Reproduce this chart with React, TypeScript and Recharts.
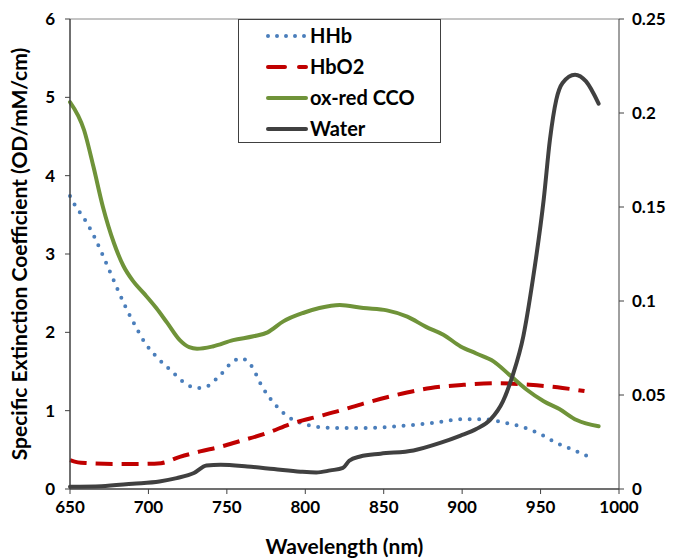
import { Line, LineChart, XAxis, YAxis, ReferenceLine, Label } from 'recharts';

const xTicks = [650, 700, 750, 800, 850, 900, 950, 1000];
const leftTicks = [0, 1, 2, 3, 4, 5, 6];
const rightTicks = [0, 0.05, 0.1, 0.15, 0.2, 0.25];

const hhbNm = [650, 653, 660, 666, 671, 676, 681, 686, 692, 698, 706, 715, 724, 731, 736, 746, 754, 759, 765, 773, 782, 790, 801, 809, 821, 840, 858, 880, 900, 915, 926, 937, 950, 960, 972, 983];
const hhbVal = [3.74, 3.63, 3.42, 3.2, 2.98, 2.75, 2.52, 2.3, 2.07, 1.86, 1.67, 1.5, 1.34, 1.29, 1.3, 1.46, 1.63, 1.67, 1.59, 1.29, 1.05, 0.91, 0.82, 0.79, 0.78, 0.78, 0.8, 0.84, 0.89, 0.89, 0.85, 0.8, 0.7, 0.59, 0.49, 0.39];

const hbo2Nm = [650, 655, 661, 678, 695, 708, 720, 733, 746, 758, 775, 792, 809, 822, 837, 858, 880, 901, 922, 943, 964, 978];
const hbo2Val = [0.37, 0.34, 0.33, 0.32, 0.32, 0.33, 0.41, 0.48, 0.54, 0.61, 0.71, 0.84, 0.93, 1.0, 1.09, 1.2, 1.29, 1.33, 1.35, 1.33, 1.29, 1.25];

const ccoNm = [650, 659, 665, 671, 678, 684, 690, 697, 705, 712, 720, 726, 731, 741, 754, 767, 776, 786, 799, 809, 822, 837, 852, 865, 877, 888, 899, 909, 920, 930, 941, 952, 962, 973, 987];
const ccoVal = [4.94, 4.58, 4.11, 3.6, 3.14, 2.85, 2.66, 2.5, 2.31, 2.12, 1.9, 1.81, 1.79, 1.82, 1.9, 1.95, 2.0, 2.14, 2.25, 2.31, 2.35, 2.31, 2.28, 2.2, 2.07, 1.97, 1.82, 1.73, 1.63, 1.46, 1.27, 1.12, 1.02, 0.88, 0.8];

const waterNm = [650, 670, 690, 707, 718, 729, 737, 746, 763, 780, 797, 807, 816, 824, 828, 835, 848, 869, 886, 899, 909, 918, 926, 932, 939, 945, 952, 956, 960, 964, 972, 979, 987];
const waterVal = [0.0012, 0.0015, 0.0028, 0.004, 0.0058, 0.0085, 0.0125, 0.0129, 0.012, 0.0106, 0.0092, 0.0088, 0.0099, 0.0112, 0.015, 0.0173, 0.0188, 0.0205, 0.0245, 0.0284, 0.0319, 0.0369, 0.0466, 0.0599, 0.0812, 0.111, 0.154, 0.186, 0.207, 0.216, 0.2204, 0.2168, 0.205];

const toRows = (nm: number[], vals: number[]) => nm.map((x, i) => ({ x, y: vals[i] }));

const hhbData = toRows(hhbNm, hhbVal);
const hbo2Data = toRows(hbo2Nm, hbo2Val);
const ccoData = toRows(ccoNm, ccoVal);
const waterData = toRows(waterNm, waterVal);

const FONT = 'Lato, "Open Sans", sans-serif';
const tickStyle = { fontFamily: FONT, fontSize: 17, fontWeight: 700, fill: '#000' };
const titleStyle = { fontFamily: FONT, fontSize: 21, fontWeight: 700, fill: '#000' };

const HHB_COLOR = '#4A7EBB';
const HBO2_COLOR = '#C00000';
const CCO_COLOR = '#6F9339';
const WATER_COLOR = '#404040';

const legendItems = [
  { name: 'HHb', color: HHB_COLOR, dash: '0 9' },
  { name: 'HbO2', color: HBO2_COLOR, dash: '17 14' },
  { name: 'ox-red CCO', color: CCO_COLOR, dash: undefined },
  { name: 'Water', color: WATER_COLOR, dash: undefined },
];

function LegendBox() {
  return (
    <div
      style={{
        position: 'absolute',
        left: 238,
        top: 19,
        width: 203,
        height: 124,
        border: '1px solid #404040',
        background: '#fff',
        boxSizing: 'border-box',
      }}
    >
      {legendItems.map((item) => (
        <div key={item.name} style={{ display: 'flex', alignItems: 'center', height: 31, paddingLeft: 27 }}>
          <svg width={44} height={10} style={{ flex: 'none' }}>
            <line
              x1={2}
              y1={5}
              x2={40}
              y2={5}
              stroke={item.color}
              strokeWidth={4}
              strokeDasharray={item.dash}
              strokeLinecap="round"
            />
          </svg>
          <span style={{ fontFamily: FONT, fontSize: 20, fontWeight: 700, color: '#000', lineHeight: '31px' }}>{item.name}</span>
        </div>
      ))}
    </div>
  );
}

export default function App() {
  return (
    <div style={{ position: 'absolute', left: 0, top: 0, width: 676, height: 559, background: '#fff' }}>
      <LineChart width={676} height={559} margin={{ top: 19, right: 0, bottom: 20, left: 0 }}>
        <XAxis
          type="number"
          dataKey="x"
          domain={[650, 1000]}
          ticks={xTicks}
          allowDuplicatedCategory={false}
          tick={tickStyle}
          tickLine={{ stroke: '#404040' }}
          axisLine={{ stroke: '#404040', strokeWidth: 1.5 }}
          tickSize={5}
          tickMargin={7}
          height={50}
        >
          <Label value="Wavelength (nm)" position="insideBottom" offset={-15} style={titleStyle} />
        </XAxis>
        <YAxis
          yAxisId="left"
          domain={[0, 6]}
          ticks={leftTicks}
          tick={tickStyle}
          tickLine={{ stroke: '#404040' }}
          axisLine={{ stroke: '#404040', strokeWidth: 1.5 }}
          tickSize={5}
          tickMargin={10}
          width={70}
        >
          <Label
            value="Specific Extinction Coefficient (OD/mM/cm)"
            angle={-90}
            position="insideLeft"
            offset={20}
            style={{ ...titleStyle, textAnchor: 'middle' }}
          />
        </YAxis>
        <YAxis
          yAxisId="right"
          orientation="right"
          domain={[0, 0.25]}
          ticks={rightTicks}
          tick={tickStyle}
          tickLine={{ stroke: '#404040' }}
          axisLine={{ stroke: '#404040', strokeWidth: 1 }}
          tickSize={5}
          tickMargin={8}
          width={57}
        />
        <ReferenceLine yAxisId="left" y={6} stroke="#8a8a8a" strokeWidth={1} />
        <Line
          yAxisId="left"
          data={hhbData}
          dataKey="y"
          name="HHb"
          type="monotone"
          stroke={HHB_COLOR}
          strokeWidth={4}
          strokeDasharray="0 9.5"
          strokeLinecap="round"
          dot={false}
          isAnimationActive={false}
        />
        <Line
          yAxisId="left"
          data={hbo2Data}
          dataKey="y"
          name="HbO2"
          type="monotone"
          stroke={HBO2_COLOR}
          strokeWidth={4}
          strokeDasharray="17 9"
          dot={false}
          isAnimationActive={false}
        />
        <Line
          yAxisId="left"
          data={ccoData}
          dataKey="y"
          name="ox-red CCO"
          type="monotone"
          stroke={CCO_COLOR}
          strokeWidth={4}
          strokeLinecap="round"
          dot={false}
          isAnimationActive={false}
        />
        <Line
          yAxisId="right"
          data={waterData}
          dataKey="y"
          name="Water"
          type="monotone"
          stroke={WATER_COLOR}
          strokeWidth={4}
          strokeLinecap="round"
          dot={false}
          isAnimationActive={false}
        />
      </LineChart>
      <LegendBox />
    </div>
  );
}
